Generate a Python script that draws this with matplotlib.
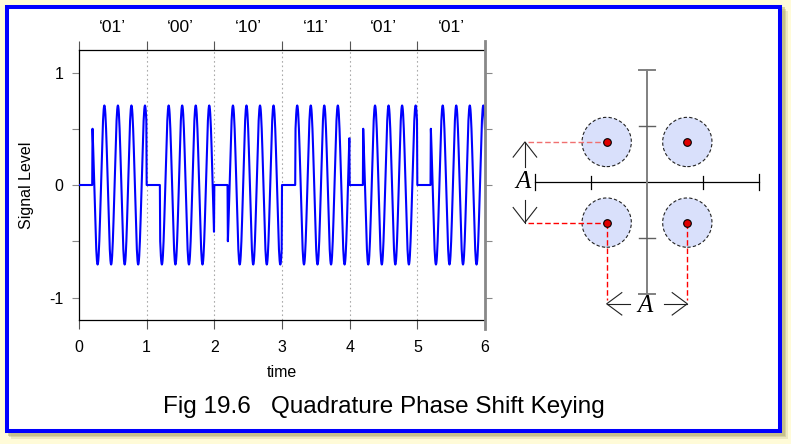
import numpy as np
import matplotlib
matplotlib.use("Agg")
import matplotlib.pyplot as plt
import matplotlib.patches as mpatches

plt.rcParams["font.family"] = ["Liberation Sans", "DejaVu Sans"]

# ------------------------------------------------------------------
# DATA
# ------------------------------------------------------------------
SYMBOLS = ["01", "00", "10", "11", "01", "01"]           # one per unit of time
PHASE_DEG = {"01": 45, "00": 135, "10": 225, "11": 315}  # carrier phase per symbol
CARRIER_FREQ = 5.0      # cycles per unit time
AMPLITUDE = 0.707
GUARD = 0.2             # silent part at the start of every symbol
SAMPLES_PER_UNIT = 200

# constellation (I, Q) of the four symbols
CONST_I = [-0.72, 0.72, -0.72, 0.72]
CONST_Q = [0.72, 0.72, -0.72, -0.72]
NOISE_RADIUS = 0.44
AXIS_TICKS = [-1, 1]
AXIS_END = 2

W, H = 791, 444


def fx(x):
    return x / W


def fy(y):
    return 1 - y / H


fig = plt.figure(figsize=(W / 100, H / 100), dpi=100)
fig.patch.set_facecolor("#fffbd8")

# --- frame with soft shadow -----------------------------------------
for off, a in [(6, 0.25), (4, 0.4), (2.5, 0.55)]:
    fig.patches.append(mpatches.Rectangle(
        (fx(5 + off), fy(433 + off)), fx(777), 428 / H,
        transform=fig.transFigure, facecolor="#b8b27a", edgecolor="none",
        alpha=a, zorder=-3))
fig.patches.append(mpatches.Rectangle(
    (fx(7), fy(431)), fx(773), 424 / H, transform=fig.transFigure,
    facecolor="white", edgecolor="#0000ff", linewidth=2.9, zorder=-2))

# ------------------------------------------------------------------
# signal panel
# ------------------------------------------------------------------
ax = fig.add_axes([fx(79), fy(320), fx(406), 270 / H])
ax.set_facecolor("none")

n = len(SYMBOLS)
idx = np.arange(n * SAMPLES_PER_UNIT + 1)
t = idx / SAMPLES_PER_UNIT
sym_idx = np.minimum(idx // SAMPLES_PER_UNIT, n - 1)
in_sym = idx - sym_idx * SAMPLES_PER_UNIT
phase = np.deg2rad([PHASE_DEG[SYMBOLS[k]] for k in sym_idx])
signal = AMPLITUDE * np.cos(2 * np.pi * CARRIER_FREQ * t + phase)
signal[in_sym < round(GUARD * SAMPLES_PER_UNIT)] = 0.0
ax.plot(t, signal, color="#0000ff", lw=1.5, zorder=3)

ax.set_xlim(0, n)
ax.set_ylim(-1.2, 1.2)
for k in range(1, n):
    ax.axvline(k, color="#aaaaaa", lw=0.8, ls=(0, (1.5, 2.5)), zorder=1)

ax.set_xticks(range(n + 1))
ax.set_yticks([-1, -0.5, 0, 0.5, 1])
ax.set_yticklabels(["-1", "", "0", "", "1"])
ax.tick_params(axis="x", direction="out", length=6.5, width=0.8, color="#555555",
               labelsize=11.5, pad=8, top=True)
ax.tick_params(axis="y", direction="out", length=5, width=0.8, color="#888888",
               labelsize=11.5, pad=6, right=True)
for sp in ["left", "top", "bottom"]:
    ax.spines[sp].set_linewidth(0.9)
ax.spines["right"].set_visible(False)
ax.plot([1, 1], [-0.035, 1.035], transform=ax.transAxes, color="#888888",
        lw=2, clip_on=False, zorder=4)

ax.set_xlabel("time", fontsize=11.5, labelpad=7)
ax.set_ylabel("Signal Level", fontsize=11.5, labelpad=11)

for k, sym in enumerate(SYMBOLS):
    ax.text(k + 0.5, 1.085, "\u2018" + sym + "\u2019", transform=ax.get_xaxis_transform(),
            ha="center", va="center", fontsize=12.5)

# ------------------------------------------------------------------
# constellation panel (56 px per unit)
# ------------------------------------------------------------------
cx0, cy0, unit = 647, 182.3, 56.0
left, right, top, bottom = 500, 780, 55, 330
bx = fig.add_axes([fx(left), fy(bottom), fx(right - left), (bottom - top) / H])
bx.set_xlim((left - cx0) / unit, (right - cx0) / unit)
bx.set_ylim((cy0 - bottom) / unit, (cy0 - top) / unit)
bx.axis("off")

# axes
bx.plot([-AXIS_END, AXIS_END], [0, 0], color="black", lw=0.9, zorder=2)
for xv in [-AXIS_END, AXIS_END]:
    bx.plot([xv, xv], [-0.14, 0.14], color="black", lw=0.9, zorder=2)
for xv in AXIS_TICKS:
    bx.plot([xv, xv], [-0.12, 0.12], color="black", lw=0.9, zorder=2)
bx.plot([0, 0], [-AXIS_END, AXIS_END], color="#808080", lw=1.4, zorder=2)
for yv in [-AXIS_END, AXIS_END]:
    bx.plot([-0.15, 0.15], [yv, yv], color="#808080", lw=1.4, zorder=2)
for yv in AXIS_TICKS:
    bx.plot([-0.14, 0.14], [yv, yv], color="#606060", lw=1.0, zorder=2)

# noise circles and symbol points
for i, q in zip(CONST_I, CONST_Q):
    bx.add_patch(mpatches.Circle((i, q), NOISE_RADIUS, facecolor="#d9e0fb",
                                 edgecolor="#222222", lw=0.8, ls=(0, (3, 2)), zorder=3))
bx.plot(CONST_I, CONST_Q, "o", color="#e00000", mec="black", mew=0.8, ms=5.5, zorder=5)

# projections
i_left = min(CONST_I)
q_top, q_bot = max(CONST_Q), min(CONST_Q)
bx.plot([-2.12, i_left], [q_top, q_top], color="#f07070", lw=1.0, ls=(0, (4, 2)), zorder=4)
bx.plot([-2.12, i_left], [q_bot, q_bot], color="#ff0000", lw=1.0, ls=(0, (4, 2)), zorder=4)
for i in sorted(set(CONST_I)):
    bx.plot([i, i], [q_bot, -2.1], color="#ff0000", lw=1.0, ls=(0, (4, 2)), zorder=4)

# dimension arrows (open chevrons)
ac = "#222222"
ax_x = -2.18
for tip, start in [(q_top, 0.27), (q_bot, -0.32)]:
    bx.plot([ax_x, ax_x], [start, tip], color=ac, lw=0.8)
    back = tip - np.sign(tip) * 0.27
    bx.plot([ax_x - 0.21, ax_x, ax_x + 0.21], [back, tip, back], color=ac, lw=0.8)
bx.text(-2.22, 0, "A", fontsize=18, family=["Liberation Serif", "DejaVu Serif"],
        style="italic", ha="center", va="center", zorder=6)

ay = -2.17
for tip, start in [(min(CONST_I), -0.3), (max(CONST_I), 0.3)]:
    bx.plot([start, tip], [ay, ay], color=ac, lw=0.8)
    back = tip - np.sign(tip) * 0.27
    bx.plot([back, tip, back], [ay - 0.2, ay, ay + 0.2], color=ac, lw=0.8)
bx.text(-0.03, -2.2, "A", fontsize=18, family=["Liberation Serif", "DejaVu Serif"],
        style="italic", ha="center", va="center", zorder=6)

# caption
fig.text(fx(384), fy(413), "Fig 19.6   Quadrature Phase Shift Keying",
         ha="center", va="baseline", fontsize=17.5)

fig.savefig("out.png", dpi=100, facecolor=fig.get_facecolor())
